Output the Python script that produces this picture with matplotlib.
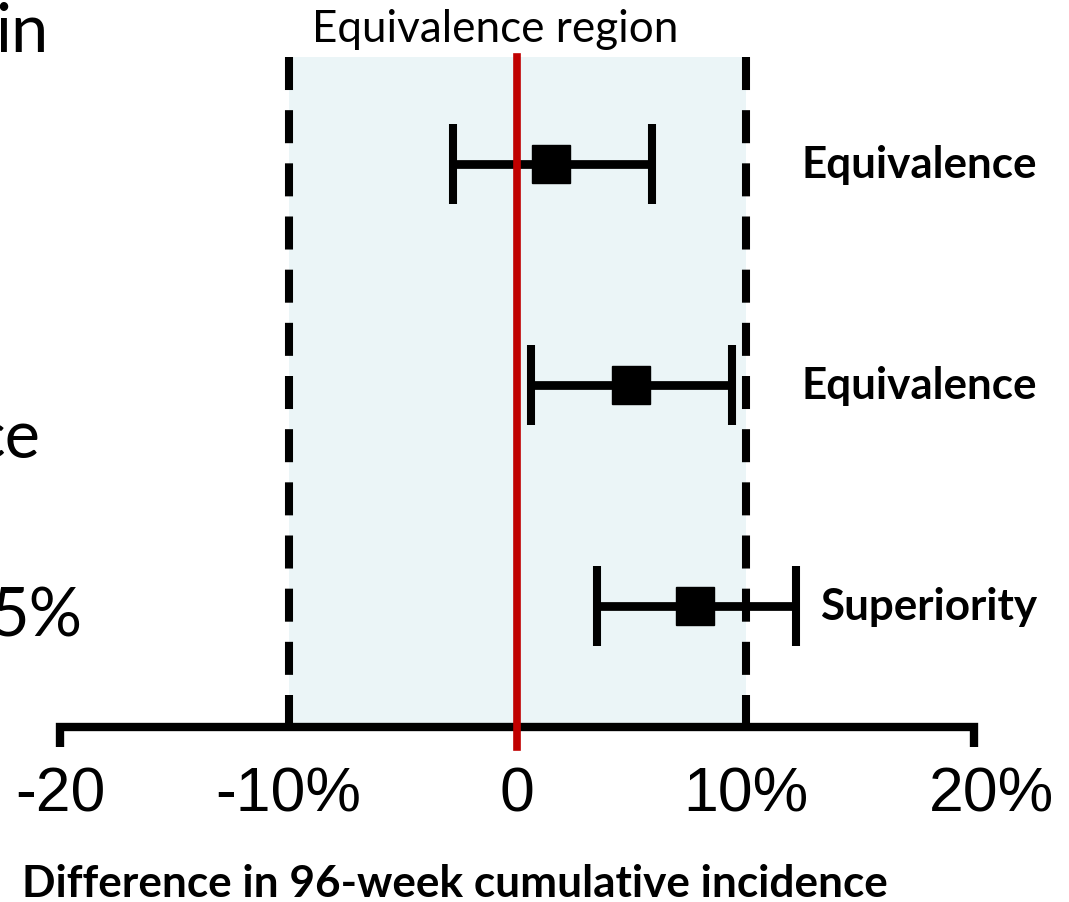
import matplotlib
matplotlib.use("Agg")
import matplotlib.pyplot as plt

# forest-plot data (difference in %, 95% CI)
rows = [3, 2, 1]
est = [1.5, 5.0, 7.8]
lo = [-2.8, 0.6, 3.5]
hi = [5.9, 9.4, 12.2]
conclusions = ['Equivalence', 'Equivalence', 'Superiority']
margin = 10
tick_vals = [-20, -10, 0, 10, 20]
tick_labels = ['-20', '-10%', '0', '10%', '20%']

W, H = 1069, 903
fig = plt.figure(figsize=(W / 100, H / 100), dpi=100)
ax = fig.add_axes([0, 0, 1, 1])

# pixel -> data helpers (axis runs -20..20 between px 60 and 974)
sx = (974 - 60) / 40.0
sy = 221.0
def dx(px):
    return -20 + (px - 60) / sx
def dy(py):
    return 1 + (607 - py) / sy

ax.set_xlim(dx(0), dx(W))
ax.set_ylim(dy(H), dy(0))
ax.axis('off')

axis_y = dy(728)
top_y = dy(58)
low_y = dy(748)

# equivalence region
ax.fill_between([-margin, margin], axis_y, top_y, color='#EBF5F7', lw=0, zorder=0)
for m in (-margin, margin):
    ax.plot([m, m], [top_y, axis_y], color='black', lw=5.8,
            linestyle=(0, (4.1, 2.5)), solid_capstyle='butt', zorder=2)

# x axis with end ticks
ax.plot([-20, -20, 20, 20], [low_y, axis_y, axis_y, low_y], color='black',
        lw=6, solid_joinstyle='miter', solid_capstyle='butt', zorder=3)

# estimates with CIs
xerr = [[e - l for e, l in zip(est, lo)], [h - e for e, h in zip(est, hi)]]
ax.errorbar(est, rows, xerr=xerr, fmt='s', color='black', ms=27,
            elinewidth=6.3, capsize=29, capthick=5.8, zorder=4)

# no-difference line
ax.plot([0, 0], [top_y, low_y], color='#C00000', lw=5.5, zorder=5)

# tick labels (the last one sits a bit right of its tick in the original)
for v, t in zip(tick_vals, tick_labels):
    shift = 17 / sx if v == 20 else 0
    ax.text(v + shift, dy(812), t, ha='center', va='baseline', fontsize=45,
            family=['Liberation Sans', 'DejaVu Sans'])

ax.text(dx(495), dy(42), 'Equivalence region', ha='center', va='baseline',
        fontsize=31.7, family=['Lato', 'DejaVu Sans'])

for r, c in zip(rows, conclusions):
    ax.text(dx(1037), r - 13 / sy, c, ha='right', va='baseline', fontsize=31.7,
            fontweight='bold', family=['Lato', 'DejaVu Sans'])

ax.text(dx(22), dy(897), 'Difference in 96-week cumulative incidence',
        ha='left', va='baseline', fontsize=31.8, fontweight='bold',
        family=['Lato', 'DejaVu Sans'])

# fragments of text cut off at the left edge
for s, px, py in [('in', 48, 52), ('ce', 40, 458), ('5%', 82, 637)]:
    ax.text(dx(px), dy(py), s, ha='right', va='baseline', fontsize=48,
            family=['Lato', 'DejaVu Sans'])

fig.savefig('out.png', dpi=100)
